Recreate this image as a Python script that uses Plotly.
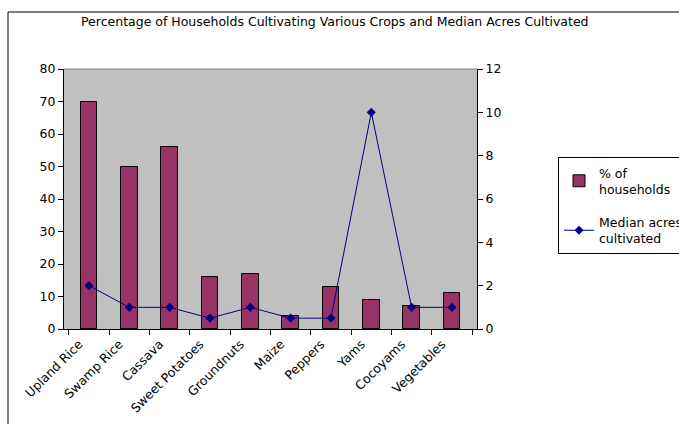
import plotly.graph_objects as go

crops = ["Upland Rice", "Swamp Rice", "Cassava", "Sweet Potatoes", "Groundnuts",
         "Maize", "Peppers", "Yams", "Cocoyams", "Vegetables"]
pct_households = [70, 50, 56, 16, 17, 4, 13, 9, 7, 11]
median_acres = [2, 1, 1, 0.5, 1, 0.5, 0.5, 10, 1, 1]

W, H = 679, 424
L, R, T, B = 64, 477, 69, 329  # plot area edges in pixels


def px(x):
    return (x - L) / (R - L)


def py(y):
    return (B - y) / (B - T)


font = dict(family="DejaVu Sans, Verdana, sans-serif", size=12.5, color="black")

fig = go.Figure()
fig.add_trace(go.Bar(
    x=crops, y=pct_households, name="% of<br>households",
    legendgroup="pct",
    marker=dict(color="#993366", line=dict(color="black", width=1)),
    width=0.42,
))
fig.add_trace(go.Scatter(
    x=crops, y=median_acres, name="Median acres<br>cultivated", yaxis="y2",
    legendgroup="acres",
    mode="lines+markers",
    line=dict(color="#000080", width=1),
    marker=dict(symbol="diamond", size=7, color="#000080"),
))

fig.update_layout(
    width=W, height=H,
    margin=dict(l=L, r=W - R, t=T, b=H - B, pad=0, autoexpand=False),
    paper_bgcolor="white",
    plot_bgcolor="#C0C0C0",
    font=font,
    showlegend=True,
    bargap=0,
    xaxis=dict(
        type="category", tickangle=-45, showline=True, linecolor="black",
        linewidth=1, ticks="outside", ticklen=5, tickcolor="black",
        tickson="boundaries", showgrid=False, zeroline=False,
        ticklabelshift=-10, ticklabelstandoff=2,
    ),
    yaxis=dict(
        range=[0, 80], dtick=10, showline=True, linecolor="black",
        linewidth=1, ticks="outside", ticklen=5, tickcolor="black",
        showgrid=False, zeroline=False,
    ),
    yaxis2=dict(
        range=[0, 12], dtick=2, overlaying="y", side="right",
        showline=True, linecolor="black", linewidth=1, ticks="outside",
        ticklen=5, tickcolor="black", showgrid=False, zeroline=False,
    ),
    legend=dict(
        x=px(558), y=py(157), xanchor="left", yanchor="top",
        bordercolor="black", borderwidth=1, bgcolor="white",
        font=dict(family=font["family"], size=12.5, color="black"),
        tracegroupgap=14, itemwidth=30,
    ),
    shapes=[
        # chart frame
        dict(type="rect", xref="paper", yref="paper",
             x0=px(8), x1=px(720), y0=py(12), y1=py(470),
             line=dict(color="black", width=1), layer="below"),
        # top border of plot area
        dict(type="line", xref="paper", yref="paper",
             x0=0, x1=1, y0=1, y1=1,
             line=dict(color="#808080", width=1)),
    ],
    annotations=[
        dict(text="Percentage of Households Cultivating Various Crops and Median Acres Cultivated",
             xref="paper", yref="paper", x=px(335), y=py(22),
             xanchor="center", yanchor="middle", showarrow=False,
             font=font),
    ],
)

fig.write_html("out.html")
